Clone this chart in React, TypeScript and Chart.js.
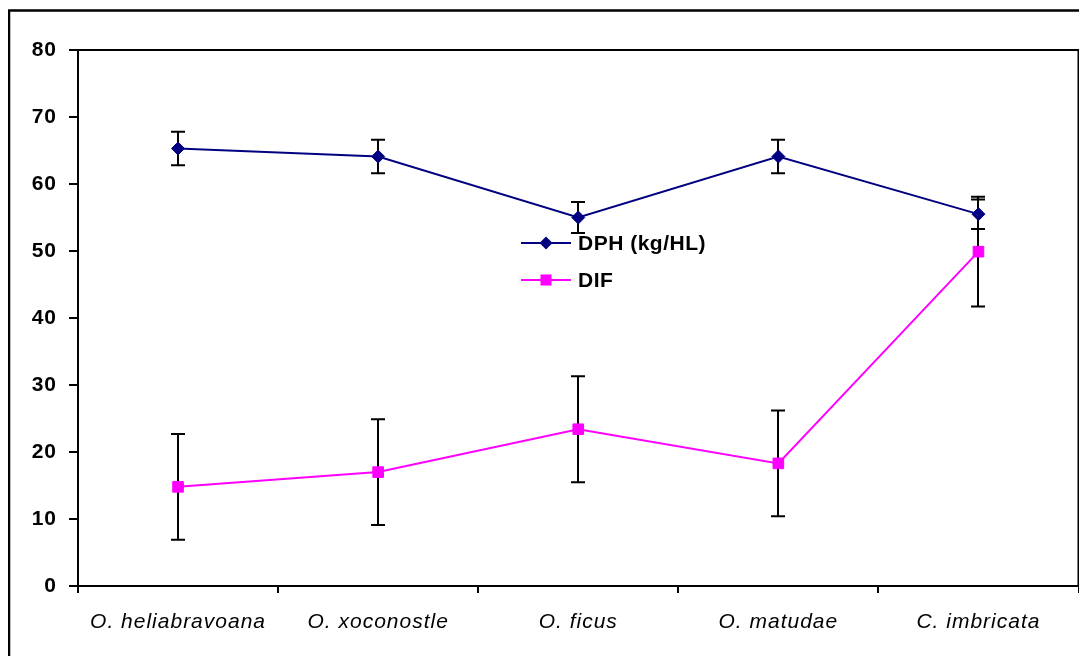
import React, { useEffect, useRef } from "react";
import { Chart, registerables } from "chart.js";

Chart.register(...registerables);

const categories = ["O. heliabravoana", "O. xoconostle", "O. ficus", "O. matudae", "C. imbricata"];
const dphValues = [65.3, 64.1, 55.0, 64.1, 55.5];
const dphErrors = [2.5, 2.5, 2.3, 2.5, 2.2];
const difValues = [14.8, 17.0, 23.4, 18.3, 49.9];
const difErrors = [7.9, 7.9, 7.9, 7.9, 8.2];
const yTicks = [0, 10, 20, 30, 40, 50, 60, 70, 80];
const seriesNames = ["DPH (kg/HL)", "DIF"];

const FONT = "'Liberation Sans', Arial, sans-serif";

const spacingPlugin = {
  id: "spacing",
  beforeDraw(chart: any) {
    (chart.ctx as any).letterSpacing = "1px";
  },
};

const errorBarPlugin = {
  id: "errorBars",
  beforeDatasetsDraw(chart: any) {
    const ctx = chart.ctx;
    const y = chart.scales.y;
    const errs = [dphErrors, difErrors];
    ctx.save();
    ctx.strokeStyle = "#000";
    ctx.lineWidth = 2;
    chart.data.datasets.forEach((ds: any, di: number) => {
      const meta = chart.getDatasetMeta(di);
      meta.data.forEach((pt: any, i: number) => {
        const v = ds.data[i];
        const e = errs[di][i];
        const x = Math.round(pt.x);
        const yt = y.getPixelForValue(v + e);
        const yb = y.getPixelForValue(v - e);
        ctx.beginPath();
        ctx.moveTo(x, yt);
        ctx.lineTo(x, yb);
        ctx.moveTo(x - 7, yt);
        ctx.lineTo(x + 7, yt);
        ctx.moveTo(x - 7, yb);
        ctx.lineTo(x + 7, yb);
        ctx.stroke();
      });
    });
    ctx.restore();
  },
};

const framePlugin = {
  id: "frame",
  afterDraw(chart: any) {
    const ctx = chart.ctx;
    const a = chart.chartArea;
    ctx.save();
    ctx.strokeStyle = "#000";
    ctx.lineWidth = 2;
    ctx.beginPath();
    ctx.moveTo(a.left, a.top);
    ctx.lineTo(a.right, a.top);
    ctx.lineTo(a.right, a.bottom);
    ctx.stroke();
    ctx.lineWidth = 2.5;
    ctx.beginPath();
    ctx.moveTo(1, chart.height);
    ctx.lineTo(1, 2.5);
    ctx.lineTo(chart.width, 2.5);
    ctx.stroke();

    const items = [
      { color: "#000080", style: "rectRot", r: 6.5, y: 235 },
      { color: "#FF00FF", style: "rect", r: 7.5, y: 272 },
    ];
    items.forEach((it, i) => {
      ctx.strokeStyle = it.color;
      ctx.lineWidth = 2;
      ctx.beginPath();
      ctx.moveTo(513, it.y);
      ctx.lineTo(563, it.y);
      ctx.stroke();
      ctx.fillStyle = it.color;
      ctx.beginPath();
      if (it.style === "rectRot") {
        ctx.moveTo(538, it.y - it.r);
        ctx.lineTo(538 + it.r, it.y);
        ctx.lineTo(538, it.y + it.r);
        ctx.lineTo(538 - it.r, it.y);
        ctx.closePath();
      } else {
        ctx.rect(538 - 5.5, it.y - 5.5, 11, 11);
      }
      ctx.fill();
      ctx.fillStyle = "#000";
      (ctx as any).letterSpacing = "0.5px";
      ctx.font = `bold 21px ${FONT}`;
      ctx.textBaseline = "middle";
      ctx.textAlign = "left";
      ctx.fillText(seriesNames[i], 570, it.y + 1);
    });
    ctx.restore();
  },
};

export default function App() {
  const ref = useRef<HTMLCanvasElement | null>(null);
  useEffect(() => {
    if (!ref.current) return;
    const chart = new Chart(ref.current, {
      type: "line",
      data: {
        labels: categories,
        datasets: [
          {
            label: seriesNames[0],
            data: dphValues,
            borderColor: "#000080",
            backgroundColor: "#000080",
            borderWidth: 2,
            pointStyle: "rectRot",
            pointRadius: 6.5,
            pointBorderWidth: 1,
            tension: 0,
          },
          {
            label: seriesNames[1],
            data: difValues,
            borderColor: "#FF00FF",
            backgroundColor: "#FF00FF",
            borderWidth: 2,
            pointStyle: "rect",
            pointRadius: 7.5,
            pointBorderWidth: 1,
            tension: 0,
          },
        ],
      },
      options: {
        animation: false,
        responsive: false,
        maintainAspectRatio: false,
        layout: { padding: { top: 42, right: 8, left: 0, bottom: 0 } },
        plugins: {
          legend: { display: false },
          tooltip: { enabled: false },
        },
        scales: {
          x: {
            type: "category",
            offset: true,
            grid: {
              offset: true,
              drawOnChartArea: false,
              drawTicks: true,
              tickLength: 7,
              color: "#000",
              lineWidth: 2,
            },
            border: { color: "#000", width: 2 },
            ticks: {
              color: "#000",
              font: { family: FONT, size: 21, style: "italic" },
              padding: 17,
              maxRotation: 0,
              autoSkip: false,
            },
            afterFit(scale: any) {
              scale.height = 70;
            },
          },
          y: {
            min: 0,
            max: 80,
            afterBuildTicks(scale: any) {
              scale.ticks = yTicks.map((v) => ({ value: v }));
            },
            grid: {
              drawOnChartArea: false,
              drawTicks: true,
              tickLength: 9,
              color: "#000",
              lineWidth: 2,
            },
            border: { color: "#000", width: 2 },
            ticks: {
              color: "#000",
              font: { family: FONT, size: 21, weight: "bold" },
              padding: 12,
            },
            afterFit(scale: any) {
              scale.width = 70;
            },
          },
        },
      },
      plugins: [spacingPlugin, errorBarPlugin, framePlugin],
    });
    return () => chart.destroy();
  }, []);
  return (
    <div style={{ width: 1079, height: 648, position: "relative" }}>
      <canvas ref={ref} width={1079} height={648} style={{ display: "block" }} />
    </div>
  );
}
